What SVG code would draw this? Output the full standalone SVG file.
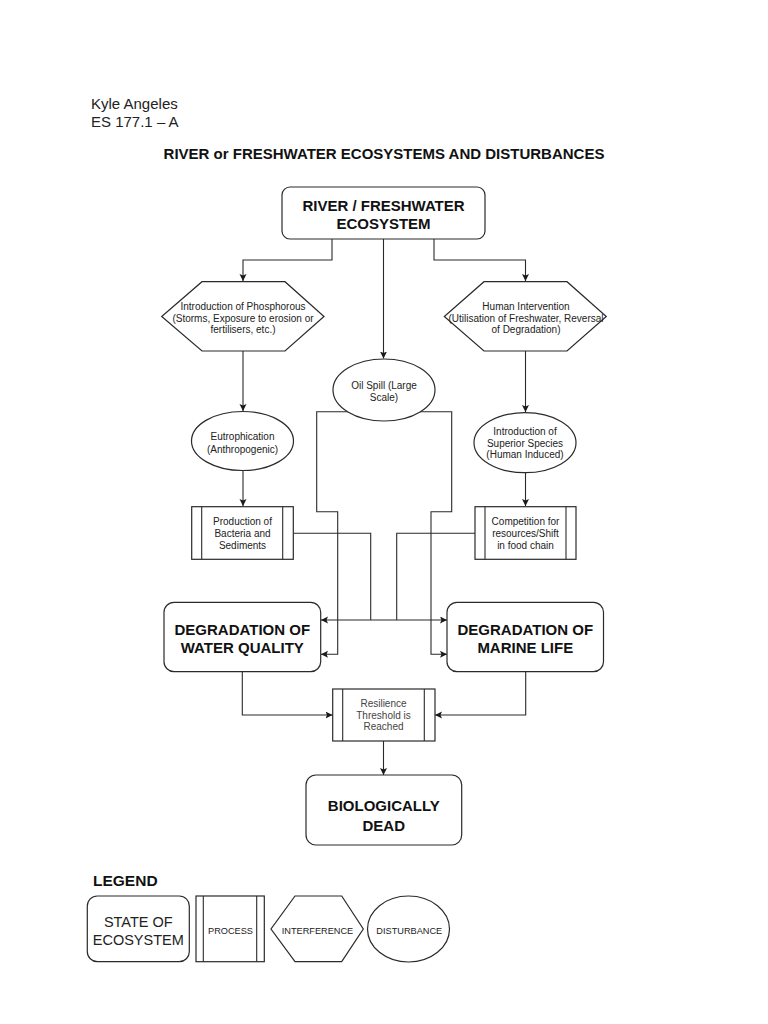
<svg xmlns="http://www.w3.org/2000/svg" width="768" height="1024" viewBox="0 0 768 1024">
<defs>
<marker id="arr" markerUnits="userSpaceOnUse" markerWidth="8" markerHeight="8" refX="7" refY="3.5" orient="auto-start-reverse">
<path d="M0,0 L7,3.5 L0,7 L1.5,3.5 z" fill="#1a1a1a"/>
</marker>
<style>
.shape{fill:#fff;stroke:#2a2a2a;stroke-width:1.2}
.ln{fill:none;stroke:#2a2a2a;stroke-width:1.1}
.big{font-family:"Liberation Sans",Arial,sans-serif;font-weight:bold;font-size:15px;fill:#111;text-anchor:middle}
.sm{font-family:"Liberation Sans",Arial,sans-serif;font-size:10px;fill:#222;text-anchor:middle}
.lg{font-family:"Liberation Sans",Arial,sans-serif;font-size:9.2px;fill:#222;text-anchor:middle}
.hdr{font-family:"Liberation Sans",Arial,sans-serif;font-size:15px;fill:#222}
</style>
</defs>
<rect width="768" height="1024" fill="#fff"/>

<g id="header">
<text class="hdr" x="91" y="109">Kyle Angeles</text>
<text class="hdr" x="91" y="126.5">ES 177.1 – A</text>
<text class="big" x="384" y="159">RIVER or FRESHWATER ECOSYSTEMS AND DISTURBANCES</text>
</g>

<g id="connectors">
<path class="ln" d="M332,239 V260 H243 V281" marker-end="url(#arr)"/>
<path class="ln" d="M383.5,239 V358.5" marker-end="url(#arr)"/>
<path class="ln" d="M434,239 V260 H525.5 V281" marker-end="url(#arr)"/>
<path class="ln" d="M243,351 V411" marker-end="url(#arr)"/>
<path class="ln" d="M243,470.5 V506" marker-end="url(#arr)"/>
<path class="ln" d="M525.5,351 V412" marker-end="url(#arr)"/>
<path class="ln" d="M525.5,472.5 V506" marker-end="url(#arr)"/>
<path class="ln" d="M347.6,411.7 H316.7 V511.7 H337.7 V654.3 H321" marker-end="url(#arr)"/>
<path class="ln" d="M420.4,411.7 H451.7 V511.7 H431 V654.3 H447" marker-end="url(#arr)"/>
<path class="ln" d="M293.3,533.3 H370.7 V620"/>
<path class="ln" d="M475,533.3 H396.7 V620"/>
<path class="ln" d="M321,620 H447" marker-start="url(#arr)" marker-end="url(#arr)"/>
<path class="ln" d="M242.3,671.7 V715 H332.5" marker-end="url(#arr)"/>
<path class="ln" d="M525.7,671.7 V715 H435" marker-end="url(#arr)"/>
<path class="ln" d="M383.5,741 V775" marker-end="url(#arr)"/>
</g>

<g id="river-ecosystem">
<rect class="shape" x="282" y="187" width="203" height="52" rx="8"/>
<text class="big" x="383.5" y="210.5">RIVER / FRESHWATER</text>
<text class="big" x="383.5" y="229">ECOSYSTEM</text>
</g>

<g id="phosphorous">
<polygon class="shape" points="202,281.7 285,281.7 324,316.5 285,351 202,351 161.7,316.5"/>
<text class="sm" x="243" y="310">Introduction of Phosphorous</text>
<text class="sm" x="243" y="321.7">(Storms, Exposure to erosion or</text>
<text class="sm" x="243" y="333.4">fertilisers, etc.)</text>
</g>

<g id="human-intervention">
<polygon class="shape" points="484,281.7 567,281.7 606.3,316.5 567,351 484,351 444.3,316.5"/>
<text class="sm" x="526" y="310">Human Intervention</text>
<text class="sm" x="526" y="321.7">(Utilisation of Freshwater, Reversal</text>
<text class="sm" x="526" y="333.4">of Degradation)</text>
</g>

<g id="oil-spill">
<ellipse class="shape" cx="384" cy="390" rx="51" ry="31"/>
<text class="sm" x="384" y="389">Oil Spill (Large</text>
<text class="sm" x="384" y="400.5">Scale)</text>
</g>

<g id="eutrophication">
<ellipse class="shape" cx="242.5" cy="441" rx="51" ry="29.5"/>
<text class="sm" x="242.5" y="440">Eutrophication</text>
<text class="sm" x="242.5" y="452.8">(Anthropogenic)</text>
</g>

<g id="superior-species">
<ellipse class="shape" cx="525" cy="442.7" rx="51" ry="30"/>
<text class="sm" x="525" y="435.2">Introduction of</text>
<text class="sm" x="525" y="446.5">Superior Species</text>
<text class="sm" x="525" y="458">(Human Induced)</text>
</g>

<g id="bacteria">
<rect class="shape" x="191.7" y="506.7" width="101.6" height="52.6"/>
<line class="ln" x1="201.7" y1="506.7" x2="201.7" y2="559.3"/>
<line class="ln" x1="282.7" y1="506.7" x2="282.7" y2="559.3"/>
<text class="sm" x="242.5" y="525.2">Production of</text>
<text class="sm" x="242.5" y="536.8">Bacteria and</text>
<text class="sm" x="242.5" y="548.5">Sediments</text>
</g>

<g id="competition">
<rect class="shape" x="475" y="506.7" width="101" height="52.6"/>
<line class="ln" x1="485" y1="506.7" x2="485" y2="559.3"/>
<line class="ln" x1="566" y1="506.7" x2="566" y2="559.3"/>
<text class="sm" x="525.5" y="525.2">Competition for</text>
<text class="sm" x="525.5" y="536.8">resources/Shift</text>
<text class="sm" x="525.5" y="548.5">in food chain</text>
</g>

<g id="water-quality">
<rect class="shape" x="164" y="602.3" width="156.7" height="69.4" rx="10"/>
<text class="big" x="242.3" y="635.3">DEGRADATION OF</text>
<text class="big" x="242.3" y="653">WATER QUALITY</text>
</g>

<g id="marine-life">
<rect class="shape" x="447" y="602.3" width="156.5" height="69.4" rx="10"/>
<text class="big" x="525.3" y="635.3">DEGRADATION OF</text>
<text class="big" x="525.3" y="653">MARINE LIFE</text>
</g>

<g id="resilience">
<rect class="shape" x="332.7" y="689" width="102.3" height="52"/>
<line class="ln" x1="342.7" y1="689" x2="342.7" y2="741"/>
<line class="ln" x1="424.3" y1="689" x2="424.3" y2="741"/>
<text class="sm" x="383.5" y="707" fill="#444" style="fill:#444">Resilience</text>
<text class="sm" x="383.5" y="718.7" style="fill:#444">Threshold is</text>
<text class="sm" x="383.5" y="730" style="fill:#444">Reached</text>
</g>

<g id="biologically-dead">
<rect class="shape" x="306" y="775" width="155.7" height="70" rx="10"/>
<text class="big" x="383.8" y="810.5">BIOLOGICALLY</text>
<text class="big" x="383.8" y="830.5">DEAD</text>
</g>

<g id="legend">
<text x="93" y="885.5" style="font-family:'Liberation Sans',Arial,sans-serif;font-weight:bold;font-size:15.5px;fill:#111">LEGEND</text>
<rect class="shape" x="87.3" y="896" width="102" height="65.7" rx="10"/>
<text x="138.3" y="927" style="font-family:'Liberation Sans',Arial,sans-serif;font-size:14.5px;fill:#222;text-anchor:middle">STATE OF</text>
<text x="138.3" y="944.5" style="font-family:'Liberation Sans',Arial,sans-serif;font-size:14.5px;fill:#222;text-anchor:middle">ECOSYSTEM</text>
<rect class="shape" x="196" y="896" width="68.3" height="65.7"/>
<line class="ln" x1="203.3" y1="896" x2="203.3" y2="961.7"/>
<line class="ln" x1="256.7" y1="896" x2="256.7" y2="961.7"/>
<text class="lg" x="230.5" y="933.5">PROCESS</text>
<polygon class="shape" points="295,896 341.7,896 363.3,929 341.7,961.7 295,961.7 271,929"/>
<text class="lg" x="317.5" y="933.5">INTERFERENCE</text>
<ellipse class="shape" cx="408.5" cy="929" rx="41" ry="33"/>
<text class="lg" x="409.3" y="933.5">DISTURBANCE</text>
</g>
</svg>
